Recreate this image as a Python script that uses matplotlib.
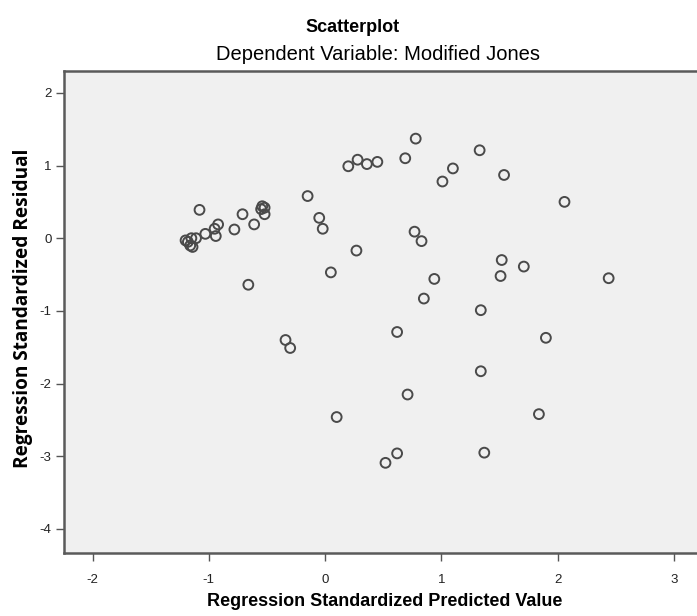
"""
SPSS-style residual scatterplot (standardized predicted vs standardized residual).
Saves out.png at 697x616.
"""
import matplotlib
matplotlib.use("Agg")
import matplotlib.pyplot as plt

pred = [0.78, 0.20, 0.28, 0.36, 0.45, 0.69, 1.33, 1.10, 1.01, 1.54, 2.06,
        -0.15, -0.05, -0.02, 0.77, 0.83, 0.27, 1.52, 1.71, 1.51, 0.05, 0.94,
        0.85, 1.34, -0.66, 2.44,
        -1.08, -0.71, -0.54, -0.52, -0.55, -0.52, -0.61, -0.78, -0.92, -0.95,
        -0.94, -1.03, -1.11, -1.15, -1.18, -1.16, -1.14, -1.20,
        -0.34, -0.30, 0.62, 1.90, 1.34, 0.71, 0.10, 1.84, 0.62, 0.52, 1.37]
resid = [1.37, 0.99, 1.08, 1.02, 1.05, 1.10, 1.21, 0.96, 0.78, 0.87, 0.50,
         0.58, 0.28, 0.13, 0.09, -0.04, -0.17, -0.30, -0.39, -0.52, -0.47, -0.56,
         -0.83, -0.99, -0.64, -0.55,
         0.39, 0.33, 0.44, 0.42, 0.40, 0.33, 0.19, 0.12, 0.19, 0.13,
         0.03, 0.06, 0.00, 0.00, -0.05, -0.10, -0.12, -0.03,
         -1.40, -1.51, -1.29, -1.37, -1.83, -2.15, -2.46, -2.42, -2.96, -3.09, -2.95]

xticks = [-2, -1, 0, 1, 2, 3]
yticks = [2, 1, 0, -1, -2, -3, -4]

SANS = ["Liberation Sans", "DejaVu Sans"]
OPEN = ["Open Sans", "DejaVu Sans"]

fig = plt.figure(figsize=(6.97, 6.16), dpi=100)
ax = fig.add_axes([0.0918, 0.1023, 0.9082, 0.7824])
ax.set_facecolor("#f0f0f0")

ax.scatter(pred, resid, s=50, facecolors="none", edgecolors="#4a4a4a",
           linewidths=1.4, zorder=3)

ax.set_xlim(-2.246, 3.20)
ax.set_ylim(-4.33, 2.30)
ax.set_xticks(xticks)
ax.set_yticks(yticks)
ax.set_xticklabels([str(t) for t in xticks], family=SANS, fontsize=9.5)
ax.set_yticklabels([str(t) for t in yticks], family=SANS, fontsize=9.5)
ax.tick_params(direction="out", length=6, width=1, color="#555555",
               labelcolor="#222222")
ax.tick_params(axis="x", pad=9)
ax.tick_params(axis="y", pad=3)

for side in ["left", "bottom", "top"]:
    ax.spines[side].set_color("#5a5a5a")
    ax.spines[side].set_linewidth(1.8)
ax.spines["right"].set_visible(False)

ax.set_xlabel("Regression Standardized Predicted Value", family=SANS,
              fontsize=13, fontweight="bold")
ax.xaxis.set_label_coords((385 - 64) / 633, -0.082)
ax.set_ylabel("Regression Standardized Residual", family=OPEN,
              fontsize=13.7, fontweight="bold")
ax.yaxis.set_label_coords(-0.049, (553 - 308) / 482)

fig.text(353 / 697, 1 - 28 / 616, "Scatterplot", ha="center", va="center",
         family=SANS, fontsize=13, fontweight="bold")
fig.text(378 / 697, 1 - 55 / 616, "Dependent Variable: Modified Jones",
         ha="center", va="center", family=SANS, fontsize=14.5)

fig.savefig("out.png", dpi=100)
